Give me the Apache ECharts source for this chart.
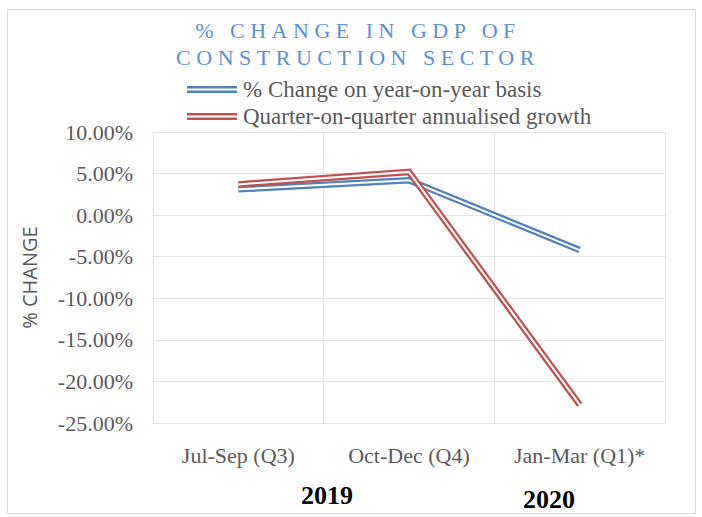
<!DOCTYPE html>
<html>
<head>
<meta charset="utf-8">
<script src="https://cdn.jsdelivr.net/npm/echarts@6/dist/echarts.min.js"></script>
<style>
html,body{margin:0;padding:0;background:#fff;}
#chart{width:702px;height:517px;}
</style>
</head>
<body>
<div id="chart"></div>
<script>
// ---- data ----
const categories = ['Jul-Sep (Q3)', 'Oct-Dec (Q4)', 'Jan-Mar (Q1)*'];
const yearLabels = ['2019', '2020'];
const seriesNames = ['% Change on year-on-year basis', 'Quarter-on-quarter annualised growth'];
const yoyValues = [3.1, 4.2, -4.2];
const qoqValues = [3.7, 5.2, -22.8];
const titleLines = ['% CHANGE IN GDP OF', 'CONSTRUCTION SECTOR'];
const yAxisTitle = '% CHANGE';

const BLUE = '#4F81BD', RED = '#C0504D';
const serif = '"Liberation Serif", "DejaVu Serif", serif';

function doubleLine(name, data, color, legendName) {
  return [
    {
      name: legendName, type: 'line', data: data, symbol: 'none', silent: true,
      itemStyle: {color: color},
      lineStyle: {color: color, width: 6.5, join: 'miter'}, z: 2
    },
    {
      name: name, type: 'line', data: data, symbol: 'none', silent: true,
      itemStyle: {color: '#ffffff'},
      lineStyle: {color: '#ffffff', width: 2, join: 'miter'}, z: 2
    }
  ];
}

const chart = echarts.init(document.getElementById('chart'), null, {renderer: 'svg'});
const option = {
  animation: false,
  backgroundColor: '#ffffff',
  title: {
    text: titleLines.join('\n'),
    left: 358, top: 17, padding: 0,
    textAlign: 'center',
    textStyle: {fontFamily: serif, fontSize: 22, fontWeight: 'normal', color: '#5B8FD6', lineHeight: 27}
  },
  legend: {
    data: seriesNames,
    orient: 'vertical', left: 187, top: 78, padding: 0,
    itemWidth: 50, itemHeight: 7, itemGap: 4,
    icon: 'path://M0,0H50V2.6H0Z M0,4.4H50V7H0Z',
    textStyle: {fontFamily: serif, fontSize: 23, color: '#595959', padding: [0, 0, 0, 1]},
    selectedMode: false
  },
  grid: {left: 153, right: 37, top: 132, bottom: 94},
  xAxis: {
    type: 'category', data: categories, boundaryGap: true,
    axisLine: {show: true, onZero: false, lineStyle: {color: '#e3e3e3'}},
    axisTick: {show: false, interval: 0},
    splitLine: {show: true, interval: 0, lineStyle: {color: '#e3e3e3', width: 1}},
    axisLabel: {fontFamily: serif, fontSize: 22, color: '#595959', margin: 21, interval: 0, hideOverlap: false}
  },
  yAxis: {
    type: 'value', min: -25, max: 10, interval: 5,
    name: yAxisTitle, nameLocation: 'middle', nameGap: 114, nameRotate: 90,
    nameTextStyle: {fontFamily: '"Open Sans", sans-serif', fontSize: 20, color: '#595959'},
    axisLine: {show: true, lineStyle: {color: '#e3e3e3'}},
    axisTick: {show: false},
    splitLine: {show: true, lineStyle: {color: '#e3e3e3', width: 1}},
    axisLabel: {
      fontFamily: serif, fontSize: 22, color: '#595959', margin: 20,
      formatter: v => v.toFixed(2) + '%'
    }
  },
  graphic: [
    {type: 'rect', shape: {x: 7.5, y: 9.5, width: 688, height: 504}, style: {fill: 'none', stroke: '#d9d9d9', lineWidth: 1}, z: -1, silent: true},
    {type: 'text', left: 301, top: 482, style: {text: yearLabels[0], font: 'bold 26px "Liberation Serif"', fill: '#000000'}},
    {type: 'text', left: 523, top: 486, style: {text: yearLabels[1], font: 'bold 26px "Liberation Serif"', fill: '#000000'}}
  ],
  series: [].concat(
    doubleLine('yoy-gap', yoyValues, BLUE, seriesNames[0]),
    doubleLine('qoq-gap', qoqValues, RED, seriesNames[1])
  )
};
chart.setOption(option);

function patchTitle() {
  document.querySelectorAll('#chart svg text').forEach(t => {
    if (titleLines.indexOf(t.textContent) >= 0) {
      t.setAttribute('letter-spacing', '5.5');
      t.style.letterSpacing = '5.5px';
    }
  });
}
patchTitle();
chart.on('finished', patchTitle);
setTimeout(patchTitle, 0);
</script>
</body>
</html>
